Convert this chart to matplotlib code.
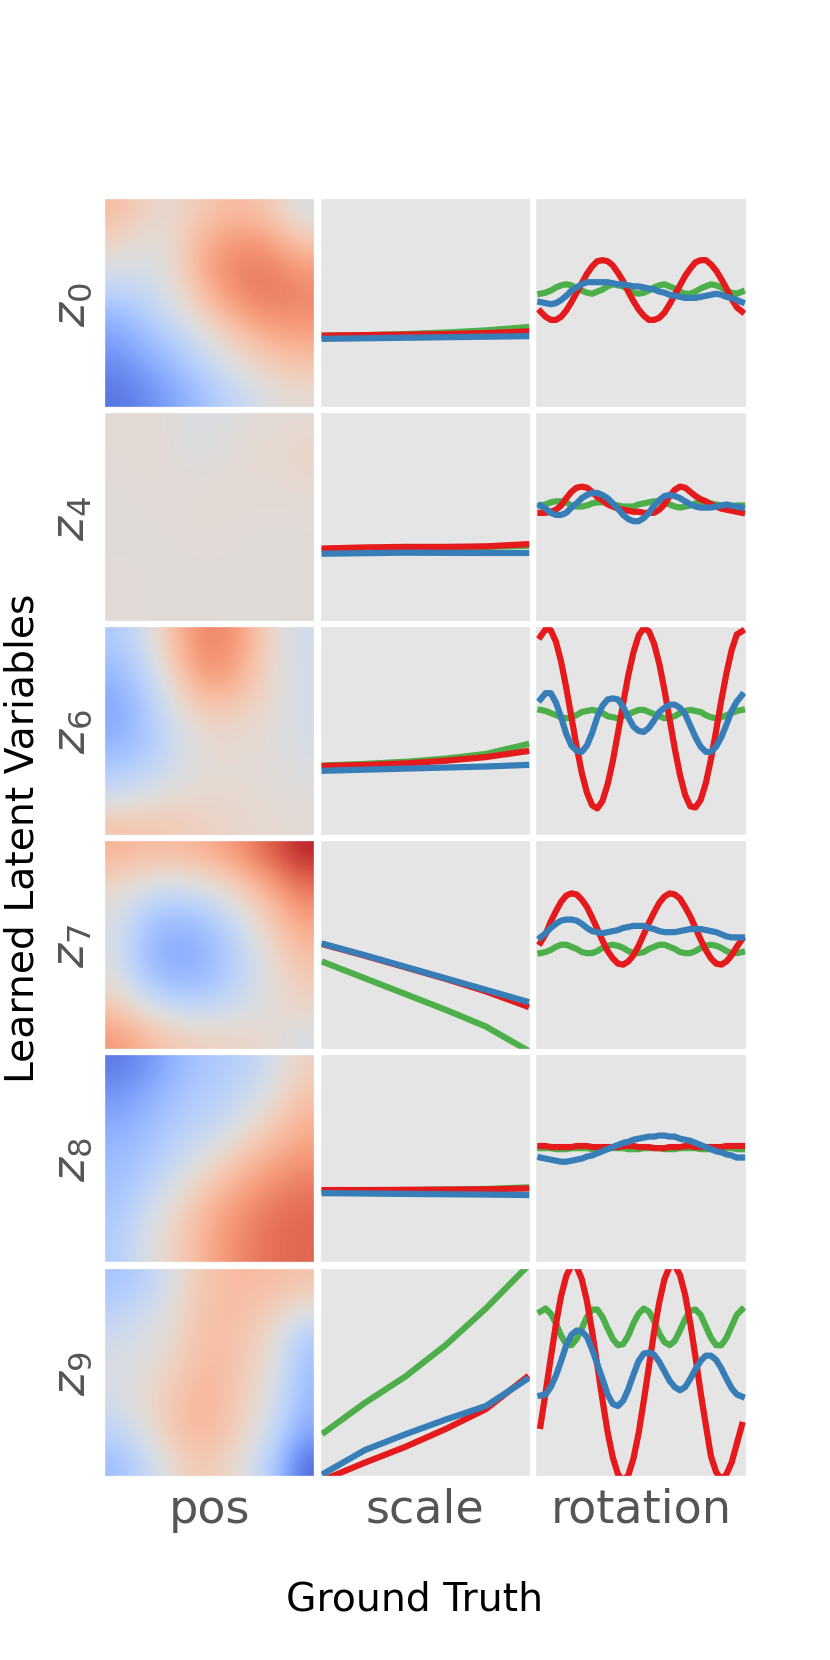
import numpy as np
import matplotlib
matplotlib.use("Agg")
from matplotlib import pyplot as plt

# latent rows and ground-truth columns
latent_names = ['z_0', 'z_4', 'z_6', 'z_7', 'z_8', 'z_9']
col_names = ['pos', 'scale', 'rotation']
shape_colors = ['#4daf4a', '#e41a1c', '#377eb8']  # square, ellipse, heart

scale_x = [0.5, 0.6, 0.7, 0.8, 0.9, 1.0]
n_rot = 40

# mean latent vs scale, per shape (green, red, blue)
z0_scale = [[-0.31, -0.305, -0.295, -0.28, -0.26, -0.23],
            [-0.31, -0.305, -0.30, -0.295, -0.285, -0.27],
            [-0.34, -0.335, -0.33, -0.325, -0.32, -0.315]]
z4_scale = [[-0.31, -0.30, -0.295, -0.29, -0.285, -0.275],
            [-0.30, -0.29, -0.285, -0.285, -0.28, -0.26],
            [-0.35, -0.345, -0.34, -0.342, -0.343, -0.343]]
z6_scale = [[-0.33, -0.315, -0.295, -0.265, -0.22, -0.13],
            [-0.335, -0.325, -0.31, -0.285, -0.25, -0.195],
            [-0.38, -0.37, -0.36, -0.35, -0.34, -0.325]]
z7_scale = [[-0.17, -0.32, -0.47, -0.62, -0.78, -1.0],
            [0.0, -0.105, -0.215, -0.325, -0.445, -0.585],
            [0.005, -0.10, -0.21, -0.32, -0.43, -0.54]]
z8_scale = [[-0.305, -0.303, -0.30, -0.295, -0.29, -0.275],
            [-0.30, -0.30, -0.298, -0.296, -0.293, -0.285],
            [-0.33, -0.333, -0.337, -0.34, -0.343, -0.347]]
z9_scale = [[-0.57, -0.29, -0.04, 0.26, 0.61, 1.0],
            [-1.02, -0.86, -0.71, -0.54, -0.35, -0.05],
            [-0.96, -0.74, -0.59, -0.45, -0.32, -0.07]]

# mean latent vs rotation, per shape (green, red, blue)
z0_rot = [
    [0.09, 0.10, 0.12, 0.15, 0.17, 0.18, 0.17, 0.14, 0.12, 0.10, 0.09, 0.11, 0.13, 0.16, 0.18, 0.17, 0.16, 0.13, 0.10, 0.09,
     0.10, 0.12, 0.15, 0.17, 0.18, 0.16, 0.14, 0.11, 0.09, 0.09, 0.11, 0.14, 0.16, 0.18, 0.17, 0.15, 0.12, 0.10, 0.09, 0.11],
    [-0.08, -0.13, -0.16, -0.16, -0.13, -0.07, 0.01, 0.10, 0.19, 0.28, 0.35, 0.40, 0.41, 0.40, 0.36, 0.29, 0.21, 0.11, 0.02, -0.06,
     -0.12, -0.16, -0.16, -0.14, -0.09, -0.01, 0.08, 0.17, 0.26, 0.33, 0.39, 0.41, 0.41, 0.37, 0.31, 0.23, 0.14, 0.04, -0.04, -0.08],
    [0.01, 0.00, -0.01, 0.00, 0.03, 0.07, 0.12, 0.15, 0.18, 0.20, 0.20, 0.20, 0.20, 0.20, 0.19, 0.18, 0.18, 0.17, 0.16, 0.16,
     0.15, 0.14, 0.13, 0.11, 0.10, 0.08, 0.07, 0.06, 0.05, 0.05, 0.05, 0.06, 0.07, 0.08, 0.09, 0.08, 0.06, 0.05, 0.03, 0.01]]
z4_rot = [
    [0.11, 0.12, 0.14, 0.15, 0.15, 0.14, 0.11, 0.10, 0.10, 0.11, 0.13, 0.14, 0.14, 0.14, 0.12, 0.11, 0.10, 0.10, 0.10, 0.12,
     0.13, 0.14, 0.15, 0.15, 0.14, 0.12, 0.10, 0.09, 0.10, 0.11, 0.13, 0.14, 0.14, 0.13, 0.12, 0.11, 0.10, 0.10, 0.11, 0.11],
    [0.04, 0.04, 0.05, 0.07, 0.11, 0.18, 0.24, 0.28, 0.29, 0.28, 0.24, 0.19, 0.16, 0.12, 0.10, 0.08, 0.07, 0.06, 0.05, 0.05,
     0.04, 0.04, 0.04, 0.07, 0.12, 0.20, 0.26, 0.29, 0.28, 0.24, 0.20, 0.17, 0.15, 0.12, 0.10, 0.08, 0.07, 0.06, 0.05, 0.04],
    [0.11, 0.08, 0.04, 0.02, 0.02, 0.04, 0.09, 0.13, 0.18, 0.21, 0.23, 0.23, 0.21, 0.18, 0.13, 0.08, 0.02, -0.02, -0.04, -0.04,
     -0.01, 0.04, 0.11, 0.16, 0.20, 0.21, 0.20, 0.18, 0.15, 0.12, 0.10, 0.09, 0.09, 0.09, 0.10, 0.11, 0.12, 0.11, 0.10, 0.09]]
z6_rot = [
    [0.20, 0.19, 0.17, 0.15, 0.13, 0.12, 0.13, 0.15, 0.18, 0.19, 0.20, 0.19, 0.17, 0.14, 0.13, 0.12, 0.14, 0.16, 0.18, 0.20,
     0.20, 0.18, 0.16, 0.14, 0.12, 0.13, 0.14, 0.17, 0.19, 0.20, 0.19, 0.18, 0.15, 0.13, 0.12, 0.13, 0.15, 0.17, 0.19, 0.20],
    [0.90, 0.97, 0.96, 0.85, 0.66, 0.41, 0.13, -0.15, -0.40, -0.59, -0.71, -0.74, -0.67, -0.51, -0.29, -0.02, 0.26, 0.53, 0.75, 0.91,
     0.98, 0.95, 0.83, 0.64, 0.39, 0.11, -0.17, -0.42, -0.61, -0.72, -0.73, -0.66, -0.50, -0.27, 0.00, 0.29, 0.55, 0.77, 0.92, 0.95],
    [0.30, 0.36, 0.36, 0.27, 0.13, -0.03, -0.14, -0.19, -0.20, -0.14, -0.02, 0.13, 0.24, 0.30, 0.31, 0.30, 0.23, 0.13, 0.04, 0.00,
     -0.01, 0.03, 0.10, 0.18, 0.22, 0.25, 0.25, 0.22, 0.16, 0.05, -0.06, -0.15, -0.20, -0.20, -0.15, -0.06, 0.06, 0.19, 0.28, 0.34]]
z7_rot = [
    [-0.08, -0.07, -0.05, -0.02, 0.00, 0.00, -0.02, -0.04, -0.07, -0.08, -0.08, -0.06, -0.03, -0.01, 0.00, -0.01, -0.03, -0.06, -0.08, -0.08,
     -0.07, -0.04, -0.02, 0.00, 0.00, -0.02, -0.04, -0.07, -0.08, -0.08, -0.06, -0.03, -0.01, 0.00, -0.01, -0.03, -0.06, -0.08, -0.08, -0.07],
    [0.02, 0.10, 0.22, 0.32, 0.41, 0.47, 0.49, 0.48, 0.43, 0.36, 0.26, 0.15, 0.04, -0.06, -0.13, -0.18, -0.19, -0.16, -0.10, -0.01,
     0.10, 0.21, 0.31, 0.40, 0.46, 0.49, 0.48, 0.44, 0.36, 0.27, 0.16, 0.05, -0.05, -0.13, -0.18, -0.19, -0.16, -0.10, -0.02, 0.05],
    [0.07, 0.11, 0.16, 0.20, 0.23, 0.24, 0.24, 0.23, 0.20, 0.16, 0.13, 0.12, 0.11, 0.12, 0.13, 0.14, 0.16, 0.17, 0.18, 0.18,
     0.18, 0.16, 0.15, 0.13, 0.12, 0.12, 0.12, 0.13, 0.14, 0.15, 0.15, 0.15, 0.14, 0.13, 0.12, 0.10, 0.08, 0.07, 0.07, 0.07]]
z8_rot = [
    [0.10, 0.10, 0.10, 0.09, 0.09, 0.09, 0.10, 0.10, 0.10, 0.10, 0.09, 0.09, 0.09, 0.10, 0.10, 0.10, 0.10, 0.09, 0.09, 0.09,
     0.10, 0.10, 0.10, 0.10, 0.09, 0.09, 0.09, 0.10, 0.10, 0.10, 0.10, 0.09, 0.09, 0.09, 0.10, 0.10, 0.10, 0.10, 0.09, 0.09],
    [0.12, 0.12, 0.11, 0.11, 0.11, 0.11, 0.11, 0.12, 0.12, 0.12, 0.11, 0.11, 0.11, 0.11, 0.11, 0.11, 0.12, 0.12, 0.12, 0.11,
     0.11, 0.11, 0.10, 0.10, 0.10, 0.11, 0.11, 0.11, 0.12, 0.12, 0.11, 0.11, 0.11, 0.11, 0.11, 0.11, 0.12, 0.12, 0.12, 0.12],
    [0.01, 0.00, -0.01, -0.02, -0.03, -0.03, -0.02, -0.01, 0.00, 0.02, 0.03, 0.05, 0.07, 0.09, 0.11, 0.13, 0.15, 0.16, 0.18, 0.19,
     0.20, 0.21, 0.21, 0.22, 0.22, 0.21, 0.21, 0.19, 0.18, 0.17, 0.15, 0.13, 0.11, 0.09, 0.07, 0.06, 0.04, 0.03, 0.01, 0.01]]
z9_rot = [
    [0.58, 0.61, 0.56, 0.47, 0.35, 0.27, 0.26, 0.32, 0.42, 0.53, 0.60, 0.60, 0.53, 0.42, 0.32, 0.26, 0.27, 0.35, 0.47, 0.56,
     0.61, 0.58, 0.49, 0.37, 0.29, 0.26, 0.30, 0.40, 0.51, 0.59, 0.60, 0.55, 0.44, 0.33, 0.26, 0.26, 0.33, 0.44, 0.55, 0.60],
    [-0.51, -0.19, 0.14, 0.46, 0.73, 0.92, 1.02, 1.01, 0.89, 0.68, 0.39, 0.07, -0.26, -0.57, -0.81, -0.97, -1.03, -0.98, -0.82, -0.58,
     -0.27, 0.06, 0.39, 0.67, 0.89, 1.01, 1.02, 0.93, 0.74, 0.47, 0.15, -0.19, -0.50, -0.80, -0.95, -1.02, -0.97, -0.86, -0.68, -0.50],
    [-0.22, -0.21, -0.14, -0.03, 0.11, 0.26, 0.36, 0.40, 0.39, 0.34, 0.22, 0.08, -0.06, -0.21, -0.30, -0.32, -0.27, -0.16, -0.02, 0.11,
     0.18, 0.19, 0.17, 0.10, 0.01, -0.08, -0.14, -0.17, -0.14, -0.06, 0.03, 0.11, 0.16, 0.16, 0.12, 0.04, -0.06, -0.15, -0.21, -0.23]]

# mean latent over (posY, posX), coarse read-off of the heatmaps
z0_pos = [[0.30, 0.15, 0.08, 0.18, 0.30, 0.30, 0.18, -0.05],
          [0.15, 0.05, 0.05, 0.30, 0.45, 0.50, 0.40, 0.20],
          [0.00, -0.05, 0.05, 0.35, 0.55, 0.62, 0.58, 0.45],
          [-0.20, -0.15, 0.00, 0.25, 0.50, 0.62, 0.65, 0.58],
          [-0.45, -0.30, -0.12, 0.08, 0.30, 0.48, 0.55, 0.55],
          [-0.60, -0.45, -0.30, -0.12, 0.08, 0.25, 0.38, 0.40],
          [-0.72, -0.60, -0.45, -0.28, -0.10, 0.05, 0.18, 0.22],
          [-0.80, -0.72, -0.58, -0.42, -0.25, -0.10, 0.02, 0.05]]
z4_pos = [[0.04, 0.06, 0.03, -0.03, -0.02, 0.04, 0.05, 0.05],
          [0.04, 0.05, 0.04, -0.02, 0.02, 0.06, 0.06, 0.12],
          [0.03, 0.04, 0.04, 0.03, 0.05, 0.06, 0.05, 0.08],
          [0.03, 0.03, 0.04, 0.04, 0.05, 0.04, 0.04, 0.04],
          [0.03, 0.03, 0.03, 0.04, 0.04, 0.03, 0.03, 0.03],
          [0.03, 0.03, 0.03, 0.03, 0.03, 0.03, 0.02, 0.03],
          [0.04, 0.03, 0.03, 0.03, 0.03, 0.02, 0.02, 0.03],
          [0.04, 0.03, 0.03, 0.03, 0.02, 0.02, 0.02, 0.03]]
z6_pos = [[-0.30, -0.10, 0.25, 0.55, 0.60, 0.38, 0.05, -0.10],
          [-0.40, -0.20, 0.15, 0.50, 0.55, 0.32, 0.05, -0.08],
          [-0.50, -0.30, 0.00, 0.32, 0.38, 0.22, 0.05, -0.08],
          [-0.55, -0.35, -0.10, 0.12, 0.15, 0.10, 0.03, -0.08],
          [-0.45, -0.35, -0.15, 0.02, 0.08, 0.06, 0.02, -0.05],
          [-0.30, -0.22, -0.08, 0.02, 0.05, 0.04, 0.02, -0.02],
          [-0.08, -0.02, 0.05, 0.08, 0.08, 0.06, 0.04, 0.02],
          [0.25, 0.22, 0.20, 0.15, 0.12, 0.08, 0.06, 0.04]]
z7_pos = [[0.35, 0.30, 0.30, 0.35, 0.45, 0.60, 0.80, 0.95],
          [0.15, 0.05, 0.00, 0.05, 0.15, 0.35, 0.55, 0.75],
          [0.00, -0.20, -0.30, -0.25, -0.10, 0.10, 0.35, 0.55],
          [-0.05, -0.35, -0.48, -0.45, -0.30, -0.05, 0.20, 0.40],
          [-0.05, -0.38, -0.52, -0.50, -0.35, -0.12, 0.10, 0.28],
          [0.05, -0.25, -0.40, -0.40, -0.30, -0.12, 0.05, 0.18],
          [0.25, 0.05, -0.10, -0.15, -0.10, -0.02, 0.05, 0.10],
          [0.50, 0.35, 0.22, 0.15, 0.12, 0.10, 0.05, -0.05]]
z8_pos = [[-0.78, -0.68, -0.50, -0.35, -0.30, -0.22, -0.05, 0.15],
          [-0.65, -0.55, -0.40, -0.30, -0.25, -0.12, 0.05, 0.25],
          [-0.55, -0.45, -0.32, -0.25, -0.15, 0.00, 0.18, 0.35],
          [-0.45, -0.38, -0.25, -0.12, 0.02, 0.20, 0.35, 0.45],
          [-0.40, -0.30, -0.15, 0.05, 0.22, 0.38, 0.50, 0.58],
          [-0.35, -0.20, 0.00, 0.20, 0.38, 0.52, 0.62, 0.68],
          [-0.30, -0.10, 0.10, 0.30, 0.48, 0.60, 0.70, 0.72],
          [-0.28, -0.05, 0.12, 0.32, 0.50, 0.62, 0.70, 0.72]]
z9_pos = [[-0.35, -0.25, -0.05, 0.20, 0.30, 0.30, 0.30, 0.25],
          [-0.25, -0.15, 0.00, 0.22, 0.30, 0.28, 0.18, 0.05],
          [-0.12, -0.05, 0.05, 0.25, 0.30, 0.22, 0.05, -0.25],
          [-0.05, 0.00, 0.10, 0.28, 0.30, 0.18, 0.00, -0.35],
          [-0.05, 0.05, 0.18, 0.32, 0.30, 0.15, -0.05, -0.40],
          [-0.10, 0.05, 0.22, 0.35, 0.30, 0.10, -0.10, -0.45],
          [-0.25, -0.05, 0.18, 0.32, 0.25, 0.05, -0.20, -0.60],
          [-0.40, -0.20, 0.05, 0.22, 0.15, -0.05, -0.35, -0.85]]

pos_maps = [z0_pos, z4_pos, z6_pos, z7_pos, z8_pos, z9_pos]
scale_lines = [z0_scale, z4_scale, z6_scale, z7_scale, z8_scale, z9_scale]
rot_lines = [z0_rot, z4_rot, z6_rot, z7_rot, z8_rot, z9_rot]

plt.style.use('ggplot')
fig, axes = plt.subplots(6, 3, figsize=(5, 10.006), dpi=166,
                         gridspec_kw=dict(wspace=0.02, hspace=0.02))

rot_x = np.linspace(0, 2 * np.pi, n_rot)

for i in range(len(latent_names)):
    ax_pos, ax_scale, ax_rot = axes[i]

    ax_pos.imshow(np.array(pos_maps[i]), cmap='coolwarm', vmin=-1, vmax=1,
                  interpolation='bicubic', aspect='auto')

    for k in range(3):
        ax_scale.plot(scale_x, scale_lines[i][k], color=shape_colors[k], lw=2.7)
        ax_rot.plot(rot_x, rot_lines[i][k], color=shape_colors[k], lw=2.7)

    for ax in (ax_scale, ax_rot):
        ax.margins(x=0.025)
        ax.set_ylim(-1, 1)

    for ax in axes[i]:
        ax.set_xticks([])
        ax.set_yticks([])
        ax.grid(False)

    ax_pos.set_ylabel(r'$%s$' % latent_names[i], fontsize=20, color='#555555')

for j, name in enumerate(col_names):
    axes[-1, j].set_xlabel(name, fontsize=20, color='#555555')

fig.text(0.5, 0.037, 'Ground Truth', ha='center', va='center', fontsize=17)
fig.text(0.027, 0.495, 'Learned Latent Variables', ha='center', va='center',
         rotation=90, fontsize=17)

fig.savefig('out.png', dpi=166)
